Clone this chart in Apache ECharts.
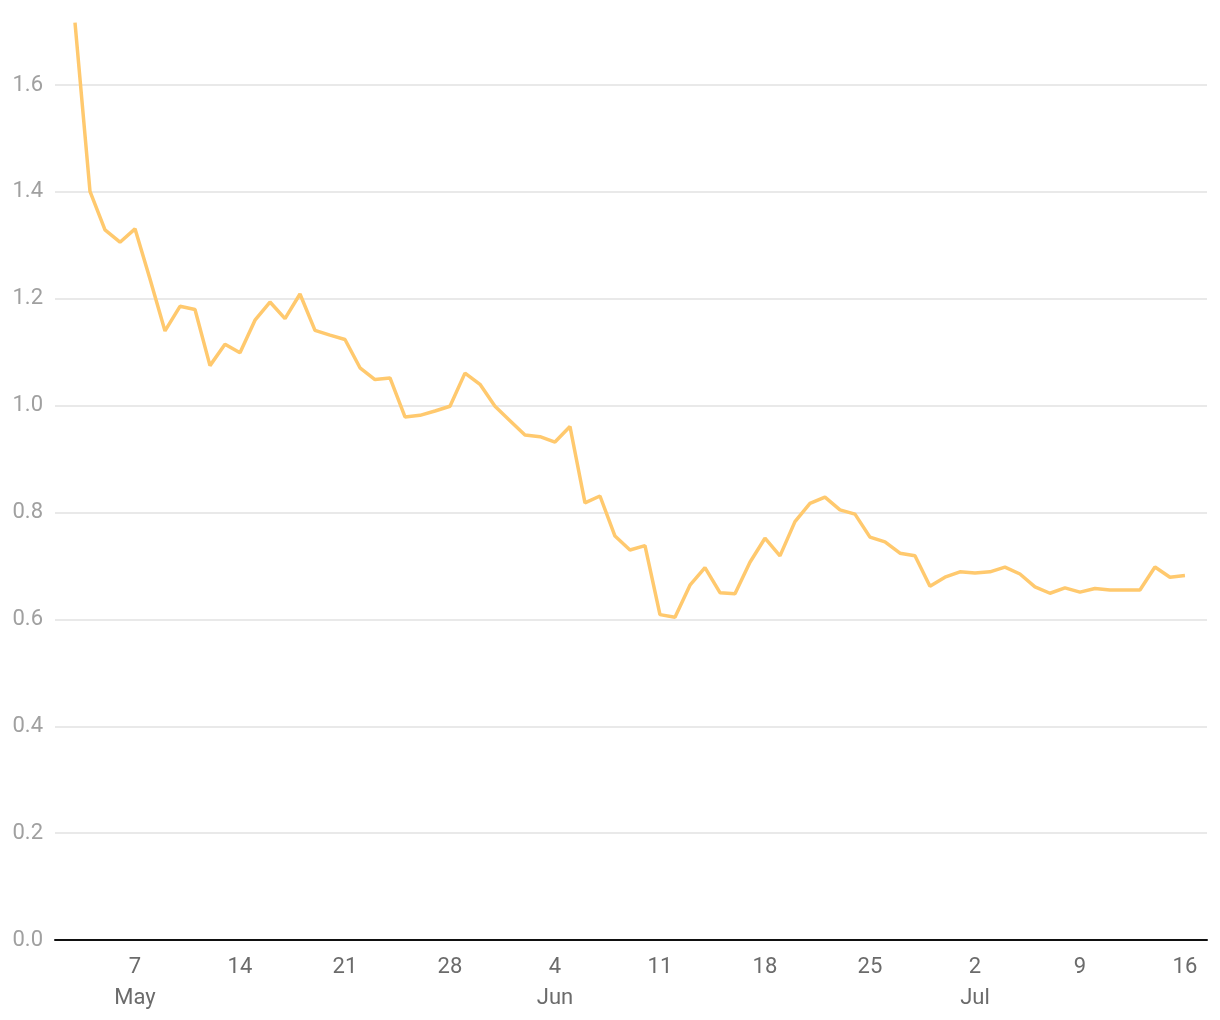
<!DOCTYPE html>
<html>
<head>
<meta charset="utf-8">
<script src="https://cdn.jsdelivr.net/npm/echarts@6/dist/echarts.min.js"></script>
<style>html,body{margin:0;padding:0;background:#fff}#c{width:1220px;height:1020px}</style>
</head>
<body>
<div id="c"></div>
<script>
var startDate = '2020-05-03';
var values = [
  1.717, 1.401, 1.329, 1.306, 1.331, 1.237, 1.140, 1.186, 1.180, 1.075,
  1.115, 1.099, 1.160, 1.194, 1.163, 1.209, 1.141, 1.132, 1.124, 1.071,
  1.049, 1.052, 0.979, 0.982, 0.990, 0.999, 1.061, 1.040, 0.999, 0.972,
  0.945, 0.942, 0.932, 0.961, 0.818, 0.831, 0.756, 0.730, 0.738, 0.609,
  0.604, 0.664, 0.697, 0.650, 0.648, 0.707, 0.752, 0.719, 0.783, 0.817,
  0.829, 0.805, 0.797, 0.754, 0.745, 0.724, 0.719, 0.662, 0.679, 0.689,
  0.687, 0.689, 0.698, 0.685, 0.661, 0.649, 0.659, 0.651, 0.658, 0.655,
  0.655, 0.655, 0.698, 0.679, 0.682
];
var xTickDays = [4, 11, 18, 25, 32, 39, 46, 53, 60, 67, 74];
var yTickStep = 0.2;
var monthNames = ['Jan','Feb','Mar','Apr','May','Jun','Jul','Aug','Sep','Oct','Nov','Dec'];

var DAY = 86400000;
var t0 = Date.parse(startDate + 'T00:00:00Z');
var data = values.map(function (v, i) { return [i, v]; });

function dayLabel(d) {
  var dt = new Date(t0 + Math.round(d) * DAY);
  var day = dt.getUTCDate();
  var s = String(day);
  if (day <= 7) s += '\n' + monthNames[dt.getUTCMonth()];
  return s;
}

var chart = echarts.init(document.getElementById('c'), null, {renderer: 'canvas'});
chart.setOption({
  animation: false,
  grid: {left: 55, right: 13, top: 21, bottom: 80, containLabel: false},
  xAxis: {
    type: 'value',
    min: -1.333,
    max: 75.47,
    axisLine: {show: true, lineStyle: {color: '#111', width: 2}},
    axisTick: {show: false},
    splitLine: {show: false},
    axisLabel: {
      customValues: xTickDays,
      formatter: dayLabel,
      color: '#6b6b6b',
      fontFamily: 'Roboto',
      fontSize: 22,
      lineHeight: 31,
      margin: 12
    }
  },
  yAxis: {
    type: 'value',
    min: 0,
    max: 1.72,
    interval: yTickStep,
    axisLine: {show: false},
    axisTick: {show: false},
    splitLine: {show: true, showMaxLine: false, showMinLine: false, lineStyle: {color: '#e2e2e2', width: 1.5}},
    axisLabel: {
      showMaxLabel: false,
      formatter: function (v) { return v.toFixed(1); },
      color: '#a0a0a0',
      fontFamily: 'Roboto',
      fontSize: 22,
      margin: 12
    }
  },
  series: [{
    type: 'line',
    data: data,
    showSymbol: false,
    symbol: 'none',
    lineStyle: {color: '#FFC96E', width: 3.5},
    itemStyle: {color: '#FFC96E'}
  }]
});
</script>
</body>
</html>
